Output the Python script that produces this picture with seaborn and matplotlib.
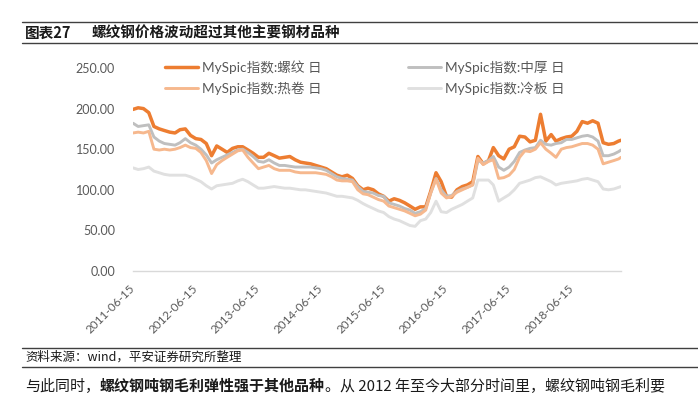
import pandas as pd
import seaborn as sns
import matplotlib.pyplot as plt
from matplotlib.lines import Line2D
from matplotlib.ticker import FuncFormatter

# monthly readings (15th of each month) 2011-06 .. 2019-03, plus last day
dates = list(pd.date_range("2011-06-01", "2019-03-01", freq="MS") + pd.Timedelta(days=14))
dates.append(pd.Timestamp("2019-03-29"))

rebar = [199, 201, 200, 195, 178, 175, 173, 171, 170, 174, 175, 167,
         163, 162, 157, 142, 154, 150, 146, 151, 153, 153, 149, 145,
         140, 140, 145, 142, 139, 140, 141, 137, 134, 133, 132, 130,
         128, 126, 122, 118, 116, 118, 114, 105, 100, 102, 100, 95,
         92, 86, 89, 87, 84, 80, 76, 79, 79, 98, 121, 110,
         92, 91, 100, 104, 106, 110, 141, 132, 136, 152, 142, 138,
         150, 153, 166, 165, 159, 161, 193, 160, 168, 160, 163, 165,
         166, 172, 184, 182, 185, 182, 158, 156, 157, 160, 161]

plate = [182, 178, 179, 180, 165, 160, 157, 156, 155, 158, 163, 158,
         155, 150, 143, 133, 137, 140, 143, 146, 149, 150, 146, 141,
         135, 134, 137, 133, 130, 130, 129, 128, 128, 128, 128, 127,
         126, 124, 120, 116, 114, 113, 112, 104, 98, 97, 96, 93,
         92, 84, 82, 80, 77, 75, 71, 73, 77, 96, 114, 100,
         92, 93, 98, 101, 103, 106, 136, 133, 136, 141, 128, 124,
         128, 135, 146, 149, 151, 152, 161, 156, 155, 157, 158, 162,
         162, 164, 166, 167, 165, 160, 142, 142, 144, 147, 149]

hot_coil = [170, 171, 170, 172, 150, 149, 150, 149, 150, 152, 155, 152,
            151, 146, 136, 120, 131, 136, 140, 144, 148, 149, 140, 133,
            126, 128, 130, 126, 124, 124, 124, 122, 121, 121, 121, 121,
            120, 119, 116, 112, 111, 111, 110, 100, 95, 94, 91, 88,
            86, 80, 78, 76, 74, 71, 68, 70, 75, 96, 113, 96,
            90, 92, 97, 100, 103, 106, 139, 131, 135, 137, 114, 115,
            118, 125, 140, 148, 147, 150, 158, 150, 145, 140, 150, 152,
            153, 155, 157, 157, 155, 150, 132, 134, 136, 138, 140]

cold_sheet = [127, 125, 126, 128, 123, 121, 119, 118, 118, 118, 118, 116,
              113, 110, 105, 101, 105, 106, 107, 108, 111, 113, 110, 106,
              102, 102, 103, 104, 103, 102, 102, 101, 100, 100, 99, 98,
              97, 96, 94, 92, 92, 91, 90, 87, 83, 80, 77, 74,
              72, 67, 64, 62, 59, 56, 55, 62, 64, 72, 86, 73,
              72, 76, 79, 82, 86, 90, 112, 112, 112, 106, 86, 90,
              94, 100, 108, 110, 112, 115, 116, 113, 110, 106, 108, 109,
              110, 111, 113, 114, 112, 110, 101, 100, 101, 103, 104]

names = ["MySpic指数:螺纹 日", "MySpic指数:中厚 日", "MySpic指数:热卷 日", "MySpic指数:冷板 日"]
colors = ["#ED7D31", "#BFBFBF", "#F6B88E", "#E0E0E0"]
widths = [2.5, 2.1, 2.1, 2.1]
tick_dates = ["2011-06-15", "2012-06-15", "2013-06-15", "2014-06-15",
              "2015-06-15", "2016-06-15", "2017-06-15", "2018-06-15"]

sns.set_style("white")
plt.rcParams["font.family"] = ["Lato", "Noto Sans CJK SC", "DejaVu Sans"]

W, H = 698, 396
fig = plt.figure(figsize=(W / 100, H / 100), dpi=100)
ax = fig.add_axes([133 / W, 1 - 271 / H, (621 - 133) / W, (271 - 68) / H])

for vals, name, c, lw in zip([rebar, plate, hot_coil, cold_sheet], names, colors, widths):
    sns.lineplot(x=dates, y=vals, color=c, linewidth=lw, label=name, ax=ax)

ax.set_xlim(dates[0], dates[-1])
ax.set_ylim(0, 250)
ax.set_yticks(range(0, 251, 50))
ax.yaxis.set_major_formatter(FuncFormatter(lambda v, p: f"{v:.2f}"))
ax.set_xticks(pd.to_datetime(tick_dates))
ax.set_xticklabels(tick_dates, rotation=45, ha="right", va="center", rotation_mode="anchor")
ax.set_xlabel("")
ax.set_ylabel("")
for s in ["left", "top", "right"]:
    ax.spines[s].set_visible(False)
ax.spines["bottom"].set_color("#D9D9D9")
ax.spines["bottom"].set_linewidth(1.0)
ax.tick_params(axis="x", length=3, color="#D9D9D9", pad=8, labelsize=8.5, labelcolor="#595959")
ax.tick_params(axis="y", length=0, pad=13, labelsize=9, labelcolor="#595959")

h, l = ax.get_legend_handles_labels()
order = [0, 2, 1, 3]
ax.legend([h[i] for i in order], [l[i] for i in order], ncol=2, frameon=False,
          loc="upper left", bbox_to_anchor=(165 / W, 1 - 60 / H), bbox_transform=fig.transFigure,
          borderaxespad=0, borderpad=0, handlelength=2.4, handletextpad=0.3,
          columnspacing=6.4, labelspacing=0.6, prop={"size": 9.8}, labelcolor="#595959")

# header / footer rules
for y in [21.7, 43.3, 347.7, 367.3]:
    fig.add_artist(Line2D([22 / W, 1], [1 - y / H] * 2, transform=fig.transFigure,
                          color="#404040", linewidth=1.0))

cjk = ["Noto Sans CJK SC", "DejaVu Sans"]
fig.text(25 / W, 1 - 33 / H, "图表27", fontsize=10.5, fontweight="bold", family=cjk,
         color="#1A1A1A", va="center")
fig.text(92 / W, 1 - 33 / H, "螺纹钢价格波动超过其他主要钢材品种", fontsize=10.5,
         fontweight="bold", family=cjk, color="#1A1A1A", va="center")
fig.text(25 / W, 1 - 357.5 / H, "资料来源：wind，平安证券研究所整理", fontsize=9,
         family=cjk, color="#1A1A1A", va="center")

# body paragraph with a bold run
renderer = fig.canvas.get_renderer()
x = 25
for txt, wt in [("与此同时，", "normal"), ("螺纹钢吨钢毛利弹性强于其他品种", "bold"),
                ("。从 2012 年至今大部分时间里，螺纹钢吨钢毛利要", "normal")]:
    t = fig.text(x / W, 1 - 385.5 / H, txt, fontsize=10.8, fontweight=wt, family=cjk,
                 color="#1A1A1A", va="center")
    x = t.get_window_extent(renderer).x1

fig.savefig("out.png", dpi=100)
